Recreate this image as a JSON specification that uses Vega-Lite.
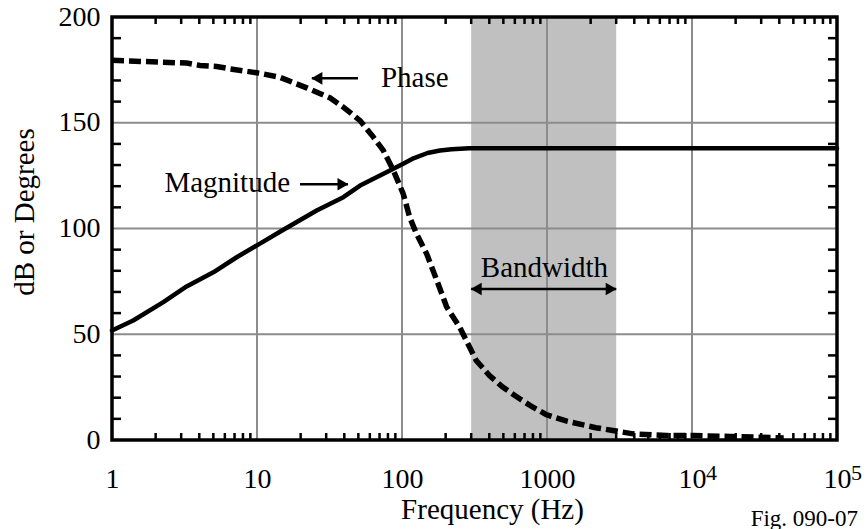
{
  "$schema": "https://vega.github.io/schema/vega-lite/v6.json",
  "width": 725,
  "height": 423,
  "autosize": {"type": "none"},
  "padding": {"left": 112, "top": 17, "right": 30, "bottom": 89},
  "background": "white",
  "config": {
    "view": {"stroke": null},
    "font": "Liberation Serif",
    "axis": {
      "labelFont": "Liberation Serif",
      "titleFont": "Liberation Serif",
      "labelColor": "black",
      "titleColor": "black",
      "titleFontWeight": "normal"
    }
  },
  "datasets": {
    "band": [{"lo": 300, "hi": 3000, "bottom": 0, "top": 200}],
    "frame": [{"lo": 1, "hi": 100000, "bottom": 0, "top": 200}],
    "gridx": [{"f": 10}, {"f": 100}, {"f": 1000}, {"f": 10000}],
    "gridy": [{"v": 50}, {"v": 100}, {"v": 150}],
    "minorx": [
      {"f": 2}, {"f": 3}, {"f": 4}, {"f": 5}, {"f": 6}, {"f": 7}, {"f": 8}, {"f": 9},
      {"f": 20}, {"f": 30}, {"f": 40}, {"f": 50}, {"f": 60}, {"f": 70}, {"f": 80}, {"f": 90},
      {"f": 200}, {"f": 300}, {"f": 400}, {"f": 500}, {"f": 600}, {"f": 700}, {"f": 800}, {"f": 900},
      {"f": 2000}, {"f": 3000}, {"f": 4000}, {"f": 5000}, {"f": 6000}, {"f": 7000}, {"f": 8000}, {"f": 9000},
      {"f": 20000}, {"f": 30000}, {"f": 40000}, {"f": 50000}, {"f": 60000}, {"f": 70000}, {"f": 80000}, {"f": 90000}
    ],
    "minory": [
      {"v": 10}, {"v": 20}, {"v": 30}, {"v": 40}, {"v": 60}, {"v": 70}, {"v": 80}, {"v": 90},
      {"v": 110}, {"v": 120}, {"v": 130}, {"v": 140}, {"v": 160}, {"v": 170}, {"v": 180}, {"v": 190}
    ],
    "magnitude": [
      {"f": 1, "v": 51.8}, {"f": 1.4, "v": 56.5}, {"f": 2.26, "v": 65.2},
      {"f": 3.27, "v": 72.6}, {"f": 5, "v": 79.3}, {"f": 7.24, "v": 86.4},
      {"f": 10.2, "v": 92.4}, {"f": 15, "v": 99.2}, {"f": 25.8, "v": 108.5},
      {"f": 39.4, "v": 114.8}, {"f": 51.4, "v": 120.3}, {"f": 82.6, "v": 127.4},
      {"f": 102, "v": 130.6}, {"f": 120, "v": 133.2}, {"f": 150, "v": 135.7},
      {"f": 183, "v": 136.9}, {"f": 220, "v": 137.5}, {"f": 290, "v": 138},
      {"f": 100000, "v": 138}
    ],
    "phase": [
      {"f": 1, "v": 179.5}, {"f": 3.27, "v": 178.2}, {"f": 4.05, "v": 177.1},
      {"f": 5.27, "v": 176.6}, {"f": 6.5, "v": 175.5}, {"f": 10.5, "v": 173.4},
      {"f": 14.4, "v": 171.5}, {"f": 22, "v": 166.5}, {"f": 31.8, "v": 161.8},
      {"f": 39.4, "v": 157.4}, {"f": 51.4, "v": 151}, {"f": 63.5, "v": 143.2},
      {"f": 74.3, "v": 136.9}, {"f": 87.3, "v": 127.4}, {"f": 102, "v": 116.4},
      {"f": 113, "v": 105.3}, {"f": 126, "v": 97.5}, {"f": 148, "v": 88},
      {"f": 174, "v": 75.4}, {"f": 203, "v": 63}, {"f": 250, "v": 53.3},
      {"f": 325, "v": 37.6}, {"f": 401, "v": 30.5}, {"f": 495, "v": 25},
      {"f": 648, "v": 19.5}, {"f": 800, "v": 15.5}, {"f": 990, "v": 12},
      {"f": 1370, "v": 8.9}, {"f": 2170, "v": 5.8}, {"f": 2840, "v": 4.5},
      {"f": 3920, "v": 2.9}, {"f": 6640, "v": 2.1}, {"f": 10200, "v": 2.1},
      {"f": 42900, "v": 1}
    ],
    "arrows": [
      {"name": "Phase", "f1": 23.9, "f2": 49.7, "v": 171},
      {"name": "Magnitude", "f1": 19.8, "f2": 42.4, "v": 120.9},
      {"name": "Bandwidth", "f1": 300, "f2": 3000, "v": 71.4}
    ],
    "headsLeft": [{"f": 23.9, "v": 171}, {"f": 300, "v": 71.4}],
    "headsRight": [{"f": 42.4, "v": 120.9}, {"f": 3000, "v": 71.4}],
    "labelsLeft": [{"f": 71.6, "v": 166.9, "text": "Phase"}],
    "labelsRight": [{"f": 16.9, "v": 117.3, "text": "Magnitude"}],
    "labelsCenter": [{"f": 960, "v": 77.2, "text": "Bandwidth"}],
    "superscripts": [{"f": 10000, "v": -19, "text": "4"}, {"f": 100000, "v": -19, "text": "5"}],
    "figure": [{"f": 139600, "v": -40.7, "text": "Fig. 090-07"}]
  },
  "layer": [
    {
      "data": {"name": "band"},
      "mark": {"type": "rect", "color": "#c0c0c0"},
      "encoding": {
        "x": {
          "field": "lo", "type": "quantitative",
          "scale": {"type": "log", "domain": [1, 100000], "nice": false},
          "axis": {
            "orient": "bottom",
            "values": [1, 10, 100, 1000, 10000, 100000],
            "labelExpr": "datum.value < 5000 ? format(datum.value, 'd') : '10'",
            "ticks": false, "tickSize": 0, "grid": false, "domain": false,
            "labelFontSize": 28, "labelPadding": 25,
            "labelFlush": false, "labelOverlap": false, "labelBound": false,
            "title": "Frequency (Hz)", "titleFontSize": 29,
            "titleX": 380, "titleY": 78, "titleBaseline": "alphabetic", "titleAlign": "center"
          }
        },
        "x2": {"field": "hi"},
        "y": {
          "field": "bottom", "type": "quantitative",
          "scale": {"domain": [0, 200], "nice": false},
          "axis": {
            "orient": "left",
            "values": [0, 50, 100, 150, 200], "format": "d",
            "ticks": false, "tickSize": 0, "grid": false, "domain": false,
            "labelFontSize": 28, "labelPadding": 12,
            "title": "dB or Degrees", "titleFontSize": 29,
            "titleX": -79, "titleY": 194.5, "titleBaseline": "alphabetic",
            "titleAlign": "center", "titleAngle": -90
          }
        },
        "y2": {"field": "top"}
      }
    },
    {
      "data": {"name": "gridx"},
      "mark": {"type": "rule", "color": "#8c8c8c", "strokeWidth": 2},
      "encoding": {"x": {"field": "f", "type": "quantitative"}}
    },
    {
      "data": {"name": "gridy"},
      "mark": {"type": "rule", "color": "#8c8c8c", "strokeWidth": 2},
      "encoding": {"y": {"field": "v", "type": "quantitative"}}
    },
    {
      "data": {"name": "minorx"},
      "mark": {"type": "tick", "orient": "vertical", "color": "black", "size": 7, "thickness": 2.5, "yOffset": 3.5, "opacity": 1, "clip": false},
      "encoding": {
        "x": {"field": "f", "type": "quantitative"},
        "y": {"value": 0}
      }
    },
    {
      "data": {"name": "minorx"},
      "mark": {"type": "tick", "orient": "vertical", "color": "black", "size": 7, "thickness": 2.5, "yOffset": -3.5, "opacity": 1, "clip": false},
      "encoding": {
        "x": {"field": "f", "type": "quantitative"},
        "y": {"value": "height"}
      }
    },
    {
      "data": {"name": "minory"},
      "mark": {"type": "tick", "orient": "horizontal", "color": "black", "size": 9, "thickness": 2.5, "xOffset": -4.5, "opacity": 1, "clip": false},
      "encoding": {
        "y": {"field": "v", "type": "quantitative"},
        "x": {"value": "width"}
      }
    },
    {
      "data": {"name": "minory"},
      "mark": {"type": "tick", "orient": "horizontal", "color": "black", "size": 9, "thickness": 2.5, "xOffset": 4.5, "opacity": 1, "clip": false},
      "encoding": {
        "y": {"field": "v", "type": "quantitative"},
        "x": {"value": 0}
      }
    },
    {
      "data": {"name": "frame"},
      "mark": {"type": "rect", "fill": null, "fillOpacity": 0, "stroke": "black", "strokeWidth": 3.5, "strokeOpacity": 1, "clip": false},
      "encoding": {
        "x": {"field": "lo", "type": "quantitative"},
        "x2": {"field": "hi"},
        "y": {"field": "bottom", "type": "quantitative"},
        "y2": {"field": "top"}
      }
    },
    {
      "data": {"name": "magnitude"},
      "mark": {"type": "line", "color": "black", "strokeWidth": 4.5, "strokeCap": "round", "strokeJoin": "round"},
      "encoding": {
        "x": {"field": "f", "type": "quantitative"},
        "y": {"field": "v", "type": "quantitative"}
      }
    },
    {
      "data": {"name": "phase"},
      "mark": {"type": "line", "color": "black", "strokeWidth": 5.5, "strokeDash": [12, 5]},
      "encoding": {
        "x": {"field": "f", "type": "quantitative"},
        "y": {"field": "v", "type": "quantitative"}
      }
    },
    {
      "data": {"name": "arrows"},
      "mark": {"type": "rule", "color": "black", "strokeWidth": 2.5},
      "encoding": {
        "x": {"field": "f1", "type": "quantitative"},
        "x2": {"field": "f2"},
        "y": {"field": "v", "type": "quantitative"}
      }
    },
    {
      "data": {"name": "headsLeft"},
      "mark": {"type": "point", "shape": "triangle-left", "filled": true, "color": "black", "opacity": 1, "size": 160, "xOffset": 5},
      "encoding": {
        "x": {"field": "f", "type": "quantitative"},
        "y": {"field": "v", "type": "quantitative"}
      }
    },
    {
      "data": {"name": "headsRight"},
      "mark": {"type": "point", "shape": "triangle-right", "filled": true, "color": "black", "opacity": 1, "size": 160, "xOffset": -5},
      "encoding": {
        "x": {"field": "f", "type": "quantitative"},
        "y": {"field": "v", "type": "quantitative"}
      }
    },
    {
      "data": {"name": "labelsLeft"},
      "mark": {"type": "text", "font": "Liberation Serif", "fontSize": 29, "color": "black", "align": "left", "baseline": "alphabetic"},
      "encoding": {
        "x": {"field": "f", "type": "quantitative"},
        "y": {"field": "v", "type": "quantitative"},
        "text": {"field": "text"}
      }
    },
    {
      "data": {"name": "labelsRight"},
      "mark": {"type": "text", "font": "Liberation Serif", "fontSize": 29, "color": "black", "align": "right", "baseline": "alphabetic"},
      "encoding": {
        "x": {"field": "f", "type": "quantitative"},
        "y": {"field": "v", "type": "quantitative"},
        "text": {"field": "text"}
      }
    },
    {
      "data": {"name": "labelsCenter"},
      "mark": {"type": "text", "font": "Liberation Serif", "fontSize": 29, "color": "black", "align": "center", "baseline": "alphabetic"},
      "encoding": {
        "x": {"field": "f", "type": "quantitative"},
        "y": {"field": "v", "type": "quantitative"},
        "text": {"field": "text"}
      }
    },
    {
      "data": {"name": "superscripts"},
      "mark": {"type": "text", "font": "Liberation Serif", "fontSize": 22, "color": "black", "align": "left", "baseline": "alphabetic", "dx": 14, "clip": false},
      "encoding": {
        "x": {"field": "f", "type": "quantitative"},
        "y": {"field": "v", "type": "quantitative"},
        "text": {"field": "text"}
      }
    },
    {
      "data": {"name": "figure"},
      "mark": {"type": "text", "font": "Liberation Serif", "fontSize": 23, "color": "black", "align": "right", "baseline": "alphabetic", "clip": false},
      "encoding": {
        "x": {"field": "f", "type": "quantitative"},
        "y": {"field": "v", "type": "quantitative"},
        "text": {"field": "text"}
      }
    }
  ]
}
